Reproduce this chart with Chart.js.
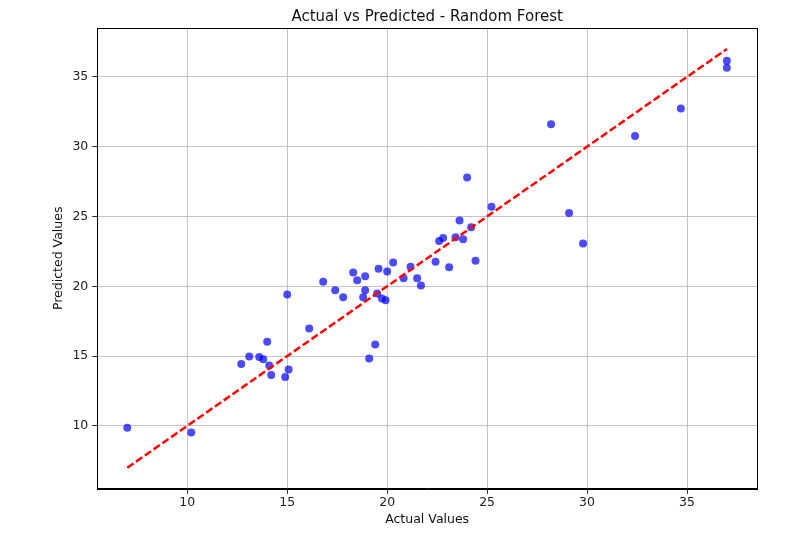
<!DOCTYPE html>
<html>
<head>
<meta charset="utf-8">
<script src="https://cdn.jsdelivr.net/npm/chart.js@4.4.1/dist/chart.umd.min.js"></script>
<style>
  html, body { margin: 0; padding: 0; background: #fff; }
  #wrap { width: 800px; height: 553px; }
</style>
</head>
<body>
<div id="wrap"><canvas id="c" width="800" height="553"></canvas></div>
<script>
const actualValues = [7.0, 10.2, 12.7, 13.1, 13.6, 13.8, 14.0, 14.1, 14.2, 14.9, 15.07, 15.0, 16.1, 16.8, 17.4, 17.8, 18.3, 18.5, 18.9, 18.9, 18.8, 19.4, 19.1, 19.57, 20.0, 20.3, 19.5, 19.74, 19.92, 20.82, 21.17, 21.5, 21.69, 24.0, 25.22, 29.1, 29.8, 23.62, 24.2, 22.6, 22.8, 23.42, 23.8, 22.42, 23.1, 24.42, 28.2, 32.4, 34.69, 36.99, 36.99];
const predictedValues = [9.86, 9.53, 14.44, 14.97, 14.94, 14.78, 16.02, 14.33, 13.65, 13.51, 14.04, 19.41, 16.98, 20.32, 19.72, 19.22, 20.99, 20.44, 20.72, 19.72, 19.22, 15.83, 14.83, 21.25, 21.06, 21.7, 19.48, 19.13, 19.0, 20.58, 21.39, 20.58, 20.06, 27.79, 25.69, 25.24, 23.07, 24.71, 24.23, 23.25, 23.45, 23.52, 23.37, 21.75, 21.37, 21.82, 31.61, 30.77, 32.74, 36.15, 35.65];
const idealLineX = [7.0, 37.0];
const idealLineY = [7.0, 37.0];
const xTicks = [10, 15, 20, 25, 30, 35];
const yTicks = [10, 15, 20, 25, 30, 35];
const chartTitle = 'Actual vs Predicted - Random Forest';

const FONT = "'DejaVu Sans', sans-serif";

const framePlugin = {
  id: 'frame',
  afterDraw(chart) {
    const a = chart.chartArea;
    const ctx = chart.ctx;
    ctx.save();
    ctx.strokeStyle = '#000';
    ctx.lineWidth = 1;
    ctx.strokeRect(Math.round(a.left) + 0.5, Math.round(a.top) + 0.5, Math.round(a.right - a.left), Math.round(a.bottom - a.top));
    ctx.fillStyle = '#111';
    ctx.font = "15px " + FONT;
    ctx.textAlign = 'center';
    ctx.textBaseline = 'alphabetic';
    ctx.fillText(chartTitle, (a.left + a.right) / 2, a.top - 7.5);
    ctx.restore();
  }
};

function fixTicks(list) {
  return function(scale) {
    scale.ticks = list.map(v => ({ value: v }));
  };
}

new Chart(document.getElementById('c'), {
  type: 'scatter',
  data: {
    datasets: [
      {
        type: 'line',
        label: 'Ideal',
        data: idealLineX.map((x, i) => ({ x: x, y: idealLineY[i] })),
        borderColor: 'rgb(255,0,0)',
        borderWidth: 2.5,
        borderDash: [7.5, 3.2],
        pointRadius: 0,
        fill: false,
        order: 0
      },
      {
        label: 'Predicted',
        data: actualValues.map((x, i) => ({ x: x, y: predictedValues[i] })),
        backgroundColor: 'rgba(0,0,255,0.7)',
        borderWidth: 0,
        pointRadius: 4,
        pointHoverRadius: 4,
        order: 1
      }
    ]
  },
  options: {
    responsive: false,
    animation: false,
    devicePixelRatio: 1,
    layout: { padding: { left: 0, right: 43, top: 28, bottom: 0 } },
    plugins: {
      legend: { display: false },
      tooltip: { enabled: false },
      title: { display: false }
    },
    scales: {
      x: {
        type: 'linear',
        min: 5.5,
        max: 38.5,
        afterBuildTicks: fixTicks(xTicks),
        afterFit(scale) { scale.height = 64.3; },
        grid: {
          color: 'rgba(176,176,176,0.75)',
          lineWidth: 1,
          tickColor: '#222',
          tickLength: 5,
          drawTicks: true
        },
        border: { display: true, color: '#000', width: 1 },
        ticks: {
          color: '#222',
          font: { family: FONT, size: 12.5 },
          padding: 2,
          maxRotation: 0,
          autoSkip: false
        },
        title: {
          display: true,
          text: 'Actual Values',
          color: '#111',
          font: { family: FONT, size: 12.5, lineHeight: 1.2 },
          padding: { top: 0, bottom: 25.5 }
        }
      },
      y: {
        type: 'linear',
        min: 5.5,
        max: 38.5,
        afterBuildTicks: fixTicks(yTicks),
        afterFit(scale) { scale.width = 97.3; },
        grid: {
          color: 'rgba(176,176,176,0.75)',
          lineWidth: 1,
          tickColor: '#222',
          tickLength: 5,
          drawTicks: true
        },
        border: { display: true, color: '#000', width: 1 },
        ticks: {
          color: '#222',
          font: { family: FONT, size: 12.5 },
          padding: 4,
          autoSkip: false
        },
        title: {
          display: true,
          text: 'Predicted Values',
          color: '#111',
          font: { family: FONT, size: 12.5, lineHeight: 1.2 },
          padding: { top: 51.5, bottom: 0 }
        }
      }
    }
  },
  plugins: [framePlugin]
});
</script>
</body>
</html>
